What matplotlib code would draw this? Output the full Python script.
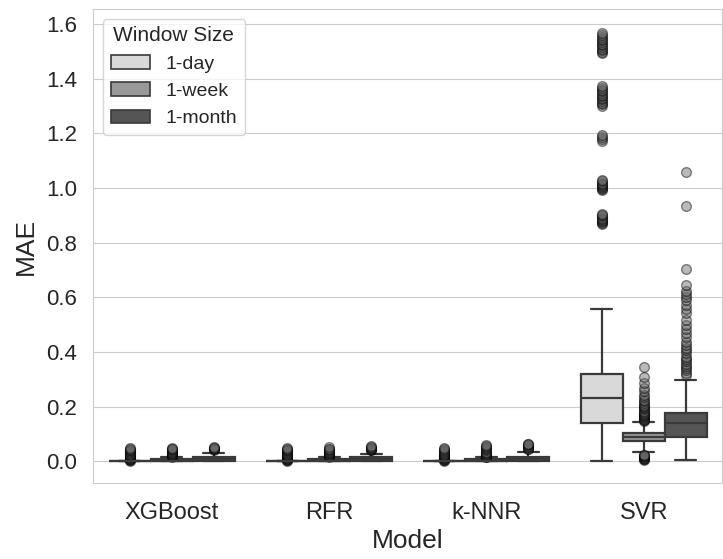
import numpy as np
import matplotlib.pyplot as plt
import seaborn as sns
from matplotlib.patches import Patch

sns.set_style("whitegrid")
plt.rcParams['font.family'] = ['Liberation Sans', 'DejaVu Sans']

models = ["XGBoost", "RFR", "k-NNR", "SVR"]
windows = ["1-day", "1-week", "1-month"]
box_colors = ["#d9d9d9", "#999999", "#555555"]
line_color = "#3a3a3a"

# box statistics, rows = model, columns = window size
whislo = [[0.0, 0.0, 0.0],
          [0.0, 0.0, 0.0],
          [0.0, 0.0, 0.0],
          [0.0, 0.034, 0.005]]
q1 = [[0.0, 0.001, 0.002],
      [0.0, 0.001, 0.002],
      [0.0, 0.001, 0.002],
      [0.142, 0.074, 0.088]]
med = [[0.0005, 0.003, 0.007],
       [0.0005, 0.003, 0.007],
       [0.0005, 0.003, 0.008],
       [0.232, 0.088, 0.142]]
q3 = [[0.001, 0.008, 0.016],
      [0.001, 0.008, 0.015],
      [0.001, 0.008, 0.017],
      [0.320, 0.105, 0.178]]
whishi = [[0.002, 0.016, 0.031],
          [0.002, 0.016, 0.028],
          [0.002, 0.016, 0.033],
          [0.558, 0.145, 0.298]]

# outliers
xgb_fliers = [
    [0.002, 0.004, 0.006, 0.008, 0.010, 0.012, 0.014, 0.016, 0.018, 0.020, 0.022, 0.025,
     0.028, 0.031, 0.034, 0.037, 0.040, 0.043, 0.046, 0.050],
    [0.016, 0.018, 0.020, 0.022, 0.024, 0.026, 0.029, 0.032, 0.035, 0.038, 0.041, 0.044,
     0.047, 0.050],
    [0.042, 0.044, 0.046, 0.048, 0.050, 0.052],
]
rfr_fliers = [
    [0.002, 0.004, 0.006, 0.008, 0.010, 0.012, 0.014, 0.016, 0.018, 0.020, 0.022, 0.025,
     0.028, 0.031, 0.034, 0.037, 0.040, 0.043, 0.046, 0.050],
    [0.016, 0.018, 0.020, 0.022, 0.024, 0.026, 0.029, 0.032, 0.035, 0.038, 0.041, 0.044,
     0.047, 0.052],
    [0.040, 0.042, 0.044, 0.046, 0.048, 0.050, 0.053, 0.055],
]
knn_fliers = [
    [0.002, 0.004, 0.006, 0.008, 0.010, 0.012, 0.014, 0.016, 0.018, 0.020, 0.022, 0.025,
     0.028, 0.031, 0.034, 0.037, 0.040, 0.044, 0.048],
    [0.015, 0.017, 0.019, 0.021, 0.023, 0.026, 0.029, 0.032, 0.036, 0.040, 0.044, 0.048,
     0.052, 0.056, 0.060],
    [0.045, 0.047, 0.050, 0.053, 0.056, 0.059, 0.062, 0.065],
]
svr_fliers = [
    [0.868, 0.872, 0.876, 0.880, 0.884, 0.888, 0.892, 0.896, 0.900, 0.904,
     0.992, 0.996, 1.000, 1.004, 1.008, 1.012, 1.016, 1.020, 1.024, 1.028,
     1.173, 1.180, 1.188, 1.195,
     1.301, 1.306, 1.312, 1.318, 1.324, 1.330, 1.336, 1.342, 1.348, 1.354, 1.360, 1.366, 1.373,
     1.493, 1.498, 1.504, 1.510, 1.516, 1.522, 1.528, 1.534, 1.540, 1.546, 1.552, 1.558, 1.566],
    [0.004, 0.007, 0.010, 0.012, 0.014, 0.016, 0.018, 0.020, 0.022, 0.025,
     0.147, 0.150, 0.153, 0.156, 0.159, 0.162, 0.165, 0.168, 0.171, 0.174, 0.177, 0.181,
     0.186, 0.190, 0.195, 0.199, 0.204, 0.208, 0.213, 0.220, 0.225, 0.235, 0.244, 0.256,
     0.268, 0.286, 0.310, 0.347],
    [0.316, 0.325, 0.333, 0.341, 0.349, 0.358, 0.366, 0.375, 0.383, 0.395, 0.407, 0.416,
     0.425, 0.437, 0.456, 0.470, 0.486, 0.500, 0.516, 0.541, 0.559, 0.571, 0.590, 0.601,
     0.613, 0.625, 0.647, 0.702, 0.933, 1.060],
]
fliers = [xgb_fliers, rfr_fliers, knn_fliers, svr_fliers]

fig = plt.figure(figsize=(7.23, 5.59), dpi=100)
ax = fig.add_subplot(111)
fig.subplots_adjust(left=0.129, right=0.999, bottom=0.136, top=0.984)

width = 0.8 / len(windows)
x = np.arange(len(models))

for j, w in enumerate(windows):
    stats = []
    for i in range(len(models)):
        stats.append(dict(whislo=whislo[i][j], q1=q1[i][j], med=med[i][j],
                          q3=q3[i][j], whishi=whishi[i][j], fliers=fliers[i][j]))
    pos = x + (j - 1) * width
    ax.bxp(stats, positions=pos, widths=width, capwidths=width / 2,
           patch_artist=True, manage_ticks=False,
           boxprops=dict(facecolor=box_colors[j], edgecolor=line_color, linewidth=1.6),
           whiskerprops=dict(color=line_color, linewidth=1.6),
           capprops=dict(color=line_color, linewidth=1.6),
           medianprops=dict(color=line_color, linewidth=1.6),
           flierprops=dict(marker='o', markerfacecolor='#666666',
                           markeredgecolor='black', markersize=7, alpha=0.45))

ax.set_xticks(x)
ax.set_xticklabels(models, fontsize=17)
ax.set_xlim(-0.5, 3.5)
ax.set_ylim(-0.079, 1.655)
ax.set_yticks(np.arange(0, 1.61, 0.2))
ax.tick_params(axis='y', labelsize=16, pad=8)
ax.tick_params(axis='x', pad=10)
ax.xaxis.grid(False)
ax.set_xlabel("Model", fontsize=19, labelpad=4)
ax.set_ylabel("MAE", fontsize=19, labelpad=6)

handles = [Patch(facecolor=c, edgecolor=line_color, linewidth=1.2) for c in box_colors]
ax.legend(handles, windows, title="Window Size", loc="upper left",
          fontsize=14, title_fontsize=15, handlelength=2.0)

fig.savefig("out.png", dpi=100)
